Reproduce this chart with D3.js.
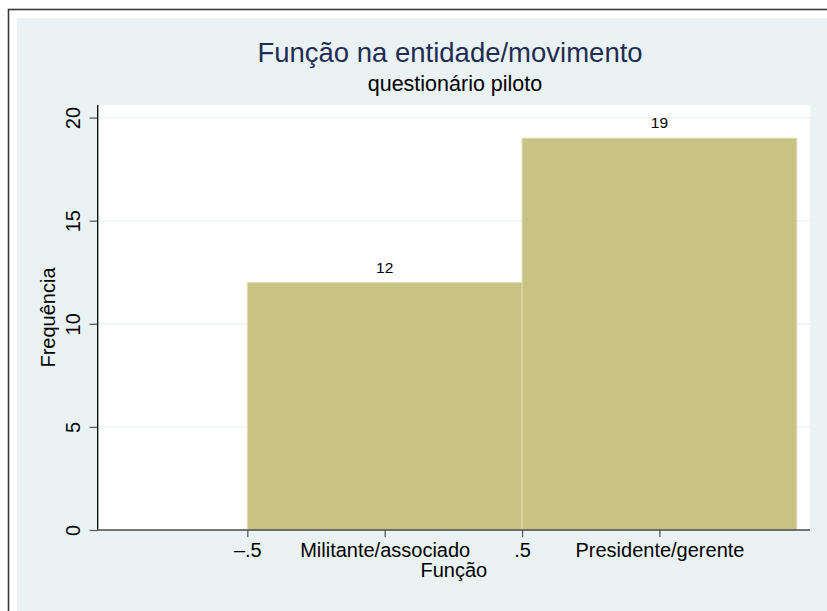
<!DOCTYPE html>
<html>
<head>
<meta charset="utf-8">
<script src="https://cdn.jsdelivr.net/npm/d3@7"></script>
<style>
  html, body { margin: 0; padding: 0; background: #ffffff; }
  svg { display: block; }
  text { font-family: "Liberation Sans", Arial, Helvetica, sans-serif; }
</style>
</head>
<body>
<svg id="chart" width="827" height="611"></svg>
<script>
// ---- data ----
const categories = ["Militante/associado", "Presidente/gerente"];
const categoryPositions = [0, 1];
const binStarts = [-0.5, 0.5];
const binEnds = [0.5, 1.5];
const counts = [12, 19];
const yTicks = [0, 5, 10, 15, 20];
const xNumericTicks = [-0.5, 0.5];
const xNumericLabels = ["\u2013.5", ".5"];
const titleText = "Função na entidade/movimento";
const subtitleText = "questionário piloto";
const xTitle = "Função";
const yTitle = "Frequência";

// ---- layout ----
const W = 827, H = 611;
const plotL = 97.7, plotR = 810, plotT = 105, plotB = 530;

const svg = d3.select("#chart");

// outer frame
svg.append("rect").attr("x", 0).attr("y", 0).attr("width", W).attr("height", H).attr("fill", "#ffffff");
svg.append("rect").attr("x", 8.5).attr("y", 9.5).attr("width", W + 10).attr("height", H + 10)
  .attr("fill", "#ffffff").attr("stroke", "#3a3a3a").attr("stroke-width", 1.6);
svg.append("rect").attr("x", 17).attr("y", 18).attr("width", W - 17).attr("height", H - 18)
  .attr("fill", "#EAF2F3");

// scales
const x = d3.scaleLinear().domain([-1.0446, 1.548]).range([plotL, plotR]);
const y = d3.scaleLinear().domain([0, 20.61]).range([plotB, plotT]);

// plot region
svg.append("rect").attr("x", plotL).attr("y", plotT).attr("width", plotR - plotL).attr("height", plotB - plotT)
  .attr("fill", "#ffffff");

// gridlines
svg.append("g").selectAll("line").data(yTicks.filter(d => d > 0)).join("line")
  .attr("x1", plotL).attr("x2", plotR)
  .attr("y1", d => y(d)).attr("y2", d => y(d))
  .attr("stroke", "#EAF2F3").attr("stroke-width", 1.2);

// bars
const bins = counts.map((c, i) => ({ x0: binStarts[i], x1: binEnds[i], n: c }));
svg.append("g").selectAll("rect").data(bins).join("rect")
  .attr("x", d => x(d.x0))
  .attr("y", d => y(d.n))
  .attr("width", d => x(d.x1) - x(d.x0))
  .attr("height", d => y(0) - y(d.n))
  .attr("fill", "#C9C383")
  .attr("stroke", "#E2DDB2").attr("stroke-width", 1);

// bar labels
svg.append("g").selectAll("text").data(bins).join("text")
  .attr("x", d => x((d.x0 + d.x1) / 2))
  .attr("y", d => y(d.n) - 10)
  .attr("text-anchor", "middle")
  .attr("font-size", 15.5)
  .attr("fill", "#000")
  .text(d => d.n);

// y axis
const yAxis = d3.axisLeft(y).tickValues(yTicks).tickSize(8).tickPadding(9).tickFormat(d3.format("d"));
const gy = svg.append("g").attr("transform", `translate(${plotL},0)`).call(yAxis);
gy.select(".domain").remove();
gy.selectAll(".tick line").attr("stroke", "#5a5a5a").attr("stroke-width", 1.3);
gy.selectAll(".tick text")
  .attr("font-size", 20).attr("fill", "#000")
  .attr("x", null).attr("dy", null)
  .attr("text-anchor", "middle")
  .attr("transform", "translate(-17.7,0) rotate(-90)");
svg.append("line").attr("x1", plotL).attr("x2", plotL).attr("y1", plotT).attr("y2", plotB)
  .attr("stroke", "#000").attr("stroke-width", 1.3);

// x axis: numeric ticks
const xAxisNum = d3.axisBottom(x).tickValues(xNumericTicks).tickSize(7).tickPadding(6)
  .tickFormat((d, i) => xNumericLabels[i]);
const gx = svg.append("g").attr("transform", `translate(0,${plotB})`).call(xAxisNum);
gx.select(".domain").remove();
// x axis: category ticks
const xAxisCat = d3.axisBottom(x).tickValues(categoryPositions).tickSize(7).tickPadding(6)
  .tickFormat((d, i) => categories[i]);
const gx2 = svg.append("g").attr("transform", `translate(0,${plotB})`).call(xAxisCat);
gx2.select(".domain").remove();
[gx, gx2].forEach(g => {
  g.selectAll(".tick line").attr("stroke", "#5a5a5a").attr("stroke-width", 1.3);
  g.selectAll(".tick text").attr("font-size", 20).attr("fill", "#000")
    .attr("dy", null).attr("y", 27);
});
svg.append("line").attr("x1", plotL).attr("x2", plotR).attr("y1", plotB).attr("y2", plotB)
  .attr("stroke", "#4a4a4a").attr("stroke-width", 1.6);

// axis titles
const cx = (plotL + plotR) / 2;
svg.append("text").attr("x", cx).attr("y", 577).attr("text-anchor", "middle")
  .attr("font-size", 20).attr("fill", "#000").text(xTitle);
svg.append("text").attr("transform", `translate(55,${(plotT + plotB) / 2}) rotate(-90)`)
  .attr("text-anchor", "middle").attr("font-size", 20).attr("fill", "#000").text(yTitle);

// titles
svg.append("text").attr("x", 450).attr("y", 62).attr("text-anchor", "middle")
  .attr("font-size", 27.5).attr("fill", "#1F2D54").text(titleText);
svg.append("text").attr("x", 455).attr("y", 90.5).attr("text-anchor", "middle")
  .attr("font-size", 21.5).attr("fill", "#000").text(subtitleText);
</script>
</body>
</html>
